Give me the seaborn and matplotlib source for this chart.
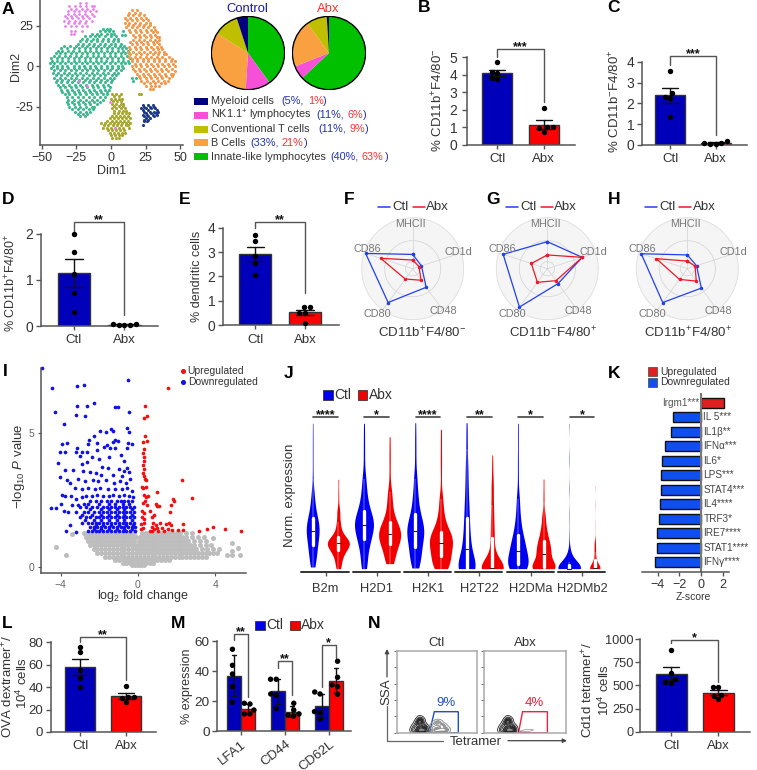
"""Multi-panel figure: t-SNE, pies, bars, radars, volcano, violins, z-scores, flow gates."""
import numpy as np
import pandas as pd
import matplotlib
matplotlib.use("Agg")
import matplotlib.pyplot as plt
from matplotlib.patches import Rectangle, Circle, Polygon
import seaborn as sns

W, H = 757, 770
BLUE, RED = "#0000BB", "#FF0000"
INK = "#333333"
CTL_LINE, ABX_LINE = "#2040F0", "#F01828"

# panel A: t-SNE clusters, rows of (Dim2, [Dim1 ...])
green_rows = [
    (23, [-6, -3, -1]), (20, [-14, -10, -7, -3, 0, 2]),
    (17, [-21, -17, -13, -10, -6, -2, 2, 5]),
    (14, [-24, -20, -16, -12, -8, -4, 0, 3, 7]),
    (11, [-36, -32, -27, -23, -19, -15, -11, -7, -3, 1, 5, 8, 11]),
    (8, [-40, -37, -33, -29, -25, -21, -17, -13, -9, -5, -1, 3, 7, 10, 13]),
    (5, [-43, -39, -35, -31, -27, -23, -19, -15, -11, -7, -3, 1, 5, 9, 14]),
    (2, [-44, -41, -37, -33, -29, -25, -21, -17, -13, -9, -5, -1, 3, 7, 10, 13]),
    (-1, [-43, -39, -35, -31, -27, -23, -19, -15, -11, -7, -3, 1, 5, 9]),
    (-4, [-42, -38, -34, -30, -26, -22, -18, -14, -10, -6, -2, 2, 5]),
    (-7, [-41, -37, -33, -29, -25, -21, -17, -13, -9, -5, -1, 2]),
    (-10, [-40, -36, -32, -28, -24, -20, -16, -12, -8, -4, 0]),
    (-13, [-37, -33, -29, -25, -21, -17, -13, -9, -5, -1]),
    (-16, [-35, -31, -27, -23, -19, -15, -11, -7, -3]),
    (-19, [-32, -28, -24, -20, -16, -12, -8, -4]),
    (-22, [-32, -28, -24, -20, -16, -12, -8]),
    (-25, [-30, -26, -22, -18, -14, -12]), (-28, [-26, -22, -18, -15]),
    (-31, [-22, -19]), (19, [8, 10]), (22, [9]), (-7, [15, 18]), (-9, [16]),
    (21.7, [-8, -4.5, -1.5, 1.5]), (18.4, [-18.5, -15, -11.5, -8.3, -4, 0, 3.5]),
    (15.6, [-22.5, -18, -14.3, -10, -6.4, -2.2, 1.7, 5.3]),
    (12.6, [-34, -29.5, -25.5, -21, -17.5, -13, -9.4, -5, -1.2, 3, 6.6, 9.5]),
    (9.5, [-38.5, -35, -31, -27.3, -23, -19, -15.4, -11, -7.2, -3, 1, 5.2, 9, 12]),
    (6.6, [-41, -37.2, -33, -29.4, -25, -21.3, -17, -13.2, -9, -5.3, -1, 3, 7.3, 11.5]),
    (3.4, [-42.5, -39, -35.3, -31, -27, -23.4, -19, -15.2, -11, -7, -3.3, 1, 5, 8.8, 12]),
    (0.4, [-42, -39, -35, -31.4, -27, -23, -19.3, -15, -11.2, -7, -3, 0.8, 5, 8]),
    (-2.6, [-41, -37, -33, -28.8, -25, -21, -17.2, -13, -9, -4.8, -1, 3.4, 7]),
    (-5.4, [-40, -36, -32, -28, -24.3, -20, -16, -12.2, -8, -4, 0.4, 3.5]),
    (-8.6, [-39, -35, -31, -27, -23, -19, -15, -11, -7, -3, 1]),
    (-11.4, [-38, -34.5, -30, -26.2, -22, -18, -14, -10.3, -6, -2]),
    (-14.6, [-36, -32, -28, -24, -20.4, -16, -12, -8, -4, -1.5]),
    (-17.4, [-33.5, -30, -26, -22, -18, -14, -10, -6, -3]),
    (-20.6, [-31, -26.5, -22, -18, -14, -10, -6]),
    (-23.4, [-31, -27, -23, -19, -15, -10]), (-26.6, [-28, -24, -20, -16, -13]),
    (-29.5, [-24, -20.5, -17]),
]
orange_rows = [
    (33, [13, 17, 21]), (30, [10, 14, 18, 22, 25]), (27, [10, 13, 17, 21, 25, 28]),
    (24, [11, 15, 19, 23, 27, 31]), (21, [14, 18, 22, 26, 30, 33]),
    (18, [17, 21, 25, 29, 33, 35]), (15, [14, 18, 22, 26, 30, 33]),
    (12, [13, 17, 21, 25, 29, 33, 36]), (9, [12, 16, 20, 24, 28, 32, 35, 38]),
    (6, [13, 17, 21, 25, 29, 33, 37, 42]), (3, [15, 19, 23, 27, 31, 35, 39, 43, 46]),
    (0, [15, 18, 22, 26, 30, 34, 38, 42, 46]), (-3, [17, 21, 25, 29, 33, 37, 41, 46]),
    (-6, [20, 24, 28, 32, 36, 40, 44]), (-9, [22, 26, 30, 34, 38, 41]),
    (-12, [25, 29, 32, 35]), (-14, [28, 30]),
    (34.5, [15, 19]), (31.5, [12, 16, 20, 23.5]), (28.5, [11.5, 15, 19, 23, 26.5]),
    (25.5, [12, 16, 20, 24, 28.5]), (22.5, [13, 17, 21, 25, 29, 32]), (19.5, [16, 20, 24, 28, 32]),
    (16.5, [16, 20, 24, 28, 32, 35]), (13.5, [15, 19, 23, 27, 31, 35]),
    (10.5, [14, 18, 22, 26, 30, 34, 37]), (7.5, [14, 18, 22, 26, 30, 34, 38, 40]),
    (4.5, [15, 19, 23, 27, 31, 35, 39, 44]), (1.5, [17, 21, 25, 29, 33, 37, 41, 45]),
    (-1.5, [16, 20, 24, 28, 32, 36, 40, 44]), (-4.5, [19, 23, 27, 31, 35, 39, 43, 45]),
    (-7.5, [21, 25, 29, 33, 37, 42]), (-10.5, [24, 28, 32, 36, 39]),
]
olive_rows = [
    (-17, [1, 4, 7]), (-20, [0, 3, 6, 8]), (-23, [1, 4, 7, 9]), (-26, [1, 4, 7, 10]),
    (-29, [2, 5, 8, 11, 13]), (-32, [-1, 2, 5, 8, 11, 14]), (-35, [-7, -4, -1, 2, 5, 8, 11, 14]),
    (-38, [-6, -3, 0, 3, 6, 9, 13]), (-41, [-1, 2, 5, 8, 10]), (-44, [1, 4, 6]), (-17, [20, 22]),
    (-33.5, [-3, 0.5, 3.5, 6.5, 9.5, 12.5]), (-36.5, [-5, -2, 1.5, 4.5, 7.5, 10.5, 12.5]),
    (-30.5, [1, 3.5, 6.5, 9.5, 12]), (-27.5, [2.5, 5.5, 8.5, 11]), (-39.5, [-2, 0.5, 3.5, 6.5, 9.5]),
    (-42.5, [0, 3, 6, 8]), (-24.5, [2.5, 5.5, 8.5]), (-21.5, [1.5, 4.5, 7.5]), (-18.5, [2.5, 5.5]),
]
navy_rows = [
    (-24, [23, 27, 30]), (-26, [22, 25, 29, 32]), (-28, [24, 28, 31, 34]),
    (-30, [23, 26, 30, 33]), (-32, [25, 28]), (-34, [24, 26]), (-36, [23]),
    (-25, [24, 28.5, 31]), (-27, [23, 27, 33]), (-29, [25, 29, 32.5]), (-31, [24, 27, 31]), (-33, [26.5, 24]),
]
pink_rows = [
    (39, [-22, -18]), (37, [-30, -26, -22, -18, -14, -12]),
    (34, [-31, -27, -23, -19, -15, -11]), (31, [-33, -29, -25, -21, -17, -12]),
    (28, [-34, -30, -26, -22, -18, -14]), (25, [-33, -29, -25, -21, -17]),
    (22, [-29, -26, -21]), (20, [-29, -27]), (-12, [-17]), (-9, [-23]), (-38, [3]), (-22, [-1]),
    (35.5, [-29, -25, -21, -17, -13]), (32.5, [-31, -27, -23, -19, -14]),
    (29.5, [-32, -28, -24, -20, -16]), (26.5, [-31, -27, -23, -19]),
]

# panel A: pies and legend
pie_labels = ["Innate-like lymphocytes", "NK1.1$^{+}$ lymphocytes", "B Cells", "Conventional T cells", "Myeloid cells"]
pie_colors = ["#00C000", "#F64FD8", "#F9A040", "#BFBF00", "#00007F"]
control_pct = [40, 11, 33, 11, 5]
abx_pct = [63, 6, 21, 9, 1]

# bar panels, dots per mouse
b_ctl, b_abx = [4.73, 4.18, 4.12, 3.8, 3.75], [2.13, 1.0, 1.0, 0.95, 0.76]
c_ctl, c_abx = [3.55, 2.48, 2.29, 2.24, 1.34], [0.05, 0.18, 0.11, 0.11, 0.05]
d_ctl, d_abx = [2.0, 1.61, 1.13, 0.71, 0.31], [0.02, 0.05, 0.03, 0.04, 0.02]
e_ctl, e_abx = [3.7, 3.44, 2.84, 2.54, 2.06], [0.74, 0.74, 0.52, 0.52, 0.11]
l_ctl, l_abx = [76, 71, 55, 48, 40], [40.9, 31.4, 27, 31.4, 30]
n_ctl, n_abx = [883, 628, 570, 525, 532], [486, 486, 400, 390, 350]

# panel M
m_genes = ["LFA1", "CD44", "CD62L"]
m_ctl = [[54.7, 44, 38.2, 29.8, 19.3], [34.7, 34.7, 24.9, 24, 15.1], [26.2, 24.9, 13.1, 12.4, 8.2]]
m_abx = [[18.7, 18.2, 14.2, 11.6, 11.6], [18.7, 14.2, 11.6, 10.7, 10.2], [46.7, 36, 30.9, 29.8, 24.7]]

# radar panels
radar_axes = ["MHCII", "CD1d", "CD48", "CD80", "CD86"]
radar_angles = [90, 18, 306, 234, 162]
f_ctl, f_abx = [0.28, 0.18, 0.45, 0.82, 0.97], [0.17, 0.13, 0.28, 0.25, 0.66]
g_ctl, g_abx = [0.53, 0.72, 0.36, 0.93, 0.91], [0.27, 0.72, 0.29, 0.33, 0.33]
h_ctl, h_abx = [0.27, 0.19, 0.47, 0.82, 0.95], [0.15, 0.16, 0.30, 0.26, 0.64]

# panel I: volcano
blue_points = [
    (-4.96, 7.46), (-4.44, 6.71), (-3.14, 6.76), (-2.8, 6.81), (-0.5, 6.98), (-2.26, 6.15), (-3.18, 6.01),
    (-2.66, 6.01), (-1.21, 5.98), (-1.02, 5.98), (-4.28, 5.79), (-3.23, 5.69), (-2.76, 5.63), (-0.45, 5.81),
    (-3.83, 5.35), (-1.95, 5.1), (-1.66, 5.04), (-1.4, 5.16), (-1.31, 5.09), (-0.55, 5.21), (-0.45, 5.06),
    (-2.26, 4.9), (-2.54, 4.75), (-2.6, 4.59), (-2.1, 4.65), (-1.62, 4.56), (-1.17, 4.75), (-1.28, 4.66),
    (-1.02, 4.71), (-0.5, 4.63), (-0.33, 4.59), (-3.96, 4.59), (-3.66, 4.65), (-4.04, 4.31), (-3.78, 4.31),
    (-3.14, 4.44), (-3.21, 4.31), (-2.9, 4.31), (-2.63, 4.31), (-2.14, 4.38), (-1.76, 4.5), (-1.45, 4.46),
    (-1.19, 4.46), (-0.59, 4.44), (-4.13, 3.88), (-3.0, 4.13), (-2.66, 3.94), (-2.92, 3.84), (-3.39, 3.63),
    (-3.78, 3.63), (-4.04, 3.38), (-3.66, 3.25), (-3.52, 3.13), (-3.96, 2.69), (-3.78, 2.66), (-3.49, 2.66),
    (-4.0, 2.34), (-4.53, 2.19), (-4.27, 2.21), (-3.83, 2.09), (-3.61, 2.04), (-3.52, 1.56), (-3.73, 1.35),
    (-3.21, 1.31), (-2.4, 4.1), (-2.0, 4.05), (-1.5, 4.1), (-0.9, 4.2), (-0.7, 3.95), (-1.85, 3.75),
    (-1.55, 3.7), (-1.0, 3.65), (-0.75, 3.6), (-0.55, 3.7), (-0.45, 3.55), (-2.85, 3.6), (-2.5, 3.55),
    (-2.2, 3.5), (-1.9, 3.45), (-1.3, 3.45), (-0.85, 3.4), (-0.4, 3.3), (-3.1, 3.3), (-2.75, 3.2),
    (-2.35, 3.25), (-2.05, 3.2), (-1.65, 3.25), (-1.25, 3.15), (-0.95, 3.2), (-0.6, 3.15), (-3.25, 2.95),
    (-2.9, 2.9), (-2.6, 2.95), (-2.25, 2.9), (-1.95, 2.95), (-1.55, 2.9), (-1.2, 2.9), (-0.85, 2.9), (-0.55, 2.95),
    (-0.3, 2.85), (-3.2, 2.55), (-2.9, 2.6), (-2.7, 2.65), (-2.4, 2.65), (-2.1, 2.7), (-1.8, 2.65), (-1.5, 2.65),
    (-1.3, 2.7), (-1.0, 2.65), (-0.7, 2.7), (-0.45, 2.65), (-0.25, 2.6), (-3.4, 2.3), (-3.1, 2.3), (-2.8, 2.35),
]
blue_rows = [
    (2.45, [-2.5, -2.2, -1.9, -1.6, -1.4, -1.1, -0.9, -0.7, -0.5, -0.3]),
    (2.25, [-3.0, -2.7, -2.4, -2.1, -1.8, -1.6, -1.4, -1.2, -1.0, -0.8, -0.6, -0.4, -0.2]),
    (2.05, [-3.2, -2.8, -2.6, -2.3, -2.0, -1.8, -1.6, -1.4, -1.2, -1.0, -0.8, -0.6, -0.4, -0.2]),
    (1.85, [-3.0, -2.7, -2.5, -2.2, -2.0, -1.8, -1.6, -1.4, -1.2, -1.0, -0.8, -0.6, -0.4, -0.2]),
    (1.65, [-2.9, -2.6, -2.4, -2.2, -2.0, -1.8, -1.6, -1.4, -1.2, -1.0, -0.8, -0.6, -0.4, -0.2]),
    (1.5, [-2.5, -2.3, -2.1, -1.9, -1.7, -1.5, -1.3, -1.1, -0.9, -0.7, -0.5, -0.3, -0.17]),
    (1.35, [-2.6, -2.4, -2.2, -2.0, -1.8, -1.6, -1.4, -1.2, -1.0, -0.8, -0.6, -0.4, -0.17]),
    (1.42, [-2.3, -1.9, -1.5, -1.1, -0.7, -0.3]), (1.58, [-2.2, -1.8, -1.4, -1.0, -0.6, -0.25]),
    (1.76, [-2.75, -2.3, -1.9, -1.5, -1.1, -0.7, -0.3]), (1.95, [-2.9, -2.4, -1.9, -1.5, -1.1, -0.7, -0.3]),
    (2.15, [-2.5, -1.9, -1.5, -1.1, -0.7, -0.3]), (2.35, [-2.6, -2.0, -1.5, -1.2, -0.8, -0.45]),
]
red_points = [
    (1.57, 6.69), (0.35, 6.04), (0.45, 5.63), (0.31, 5.56), (0.35, 4.91), (0.45, 4.71), (0.28, 4.66),
    (0.3, 4.4), (0.28, 4.25), (0.32, 4.1), (0.3, 3.95), (0.27, 3.8), (0.3, 3.65), (0.25, 3.5), (0.3, 3.4),
    (0.35, 3.3), (0.4, 3.25), (0.2, 3.0), (0.28, 2.95), (0.4, 3.0), (0.3, 2.7), (0.4, 2.6), (0.5, 2.65),
    (0.25, 2.4), (0.35, 2.45), (0.45, 2.3), (0.2, 2.1), (0.32, 2.0), (0.2, 1.85), (0.32, 1.8), (0.18, 1.6),
    (0.3, 1.65), (0.15, 1.4), (0.25, 1.45), (2.26, 3.26), (2.82, 2.59), (0.97, 2.81), (1.83, 2.53), (1.87, 2.46),
    (1.69, 2.31), (0.97, 2.29), (1.1, 2.27), (0.92, 2.35), (0.62, 2.09), (1.66, 2.04), (0.85, 1.95), (0.7, 1.85),
    (2.35, 1.59), (3.9, 1.48), (3.59, 1.41), (4.52, 1.43), (5.34, 1.34), (3.16, 1.34), (2.35, 1.38), (2.06, 1.38),
    (1.78, 1.38), (0.6, 1.35), (0.7, 1.5), (0.8, 1.65), (0.85, 1.4), (0.95, 1.55), (1.05, 1.35), (1.15, 1.65),
    (1.25, 1.45), (1.35, 1.35), (1.45, 1.6), (1.55, 1.4), (1.6, 1.65), (1.7, 1.55), (0.75, 1.35), (1.0, 1.45),
]
grey_rows = [
    (1.25, [-2.8, -2.6, -2.4, -2.2, -2.0, -1.8, -1.6, -1.4, -1.2, -1.0, -0.8, -0.6, -0.4, -0.2, 0.2, 0.4, 0.6, 0.8, 1.0, 1.2, 1.4, 1.6, 1.8, 2.0, 2.2, 2.5, 2.8]),
    (1.1, [-2.7, -2.5, -2.3, -2.1, -1.9, -1.7, -1.5, -1.3, -1.1, -0.9, -0.7, -0.5, -0.3, -0.1, 0.1, 0.3, 0.5, 0.7, 0.9, 1.1, 1.3, 1.5, 1.7, 1.9, 2.1, 2.3, 2.5, 2.8, 3.1, 3.4]),
    (0.95, [-2.6, -2.4, -2.2, -2.0, -1.8, -1.6, -1.4, -1.2, -1.0, -0.8, -0.6, -0.4, -0.2, 0.05, 0.2, 0.4, 0.6, 0.8, 1.0, 1.2, 1.4, 1.6, 1.8, 2.0, 2.2, 2.4, 2.6, 2.9, 3.2, 3.5]),
    (0.8, [-2.5, -2.3, -2.1, -1.9, -1.7, -1.5, -1.3, -1.1, -0.9, -0.7, -0.5, -0.3, -0.15, 0.0, 0.15, 0.3, 0.5, 0.7, 0.9, 1.1, 1.3, 1.5, 1.7, 1.9, 2.1, 2.3, 2.5, 2.7, 2.9, 3.2, 3.5, 3.8]),
    (0.65, [-2.3, -2.1, -1.9, -1.7, -1.5, -1.3, -1.1, -0.9, -0.7, -0.5, -0.3, -0.1, 0.05, 0.2, 0.4, 0.6, 0.8, 1.0, 1.2, 1.4, 1.6, 1.8, 2.0, 2.2, 2.4, 2.6, 2.8, 3.0, 3.3, 3.6, 3.9, 4.2]),
    (0.5, [-2.1, -1.9, -1.7, -1.5, -1.3, -1.1, -0.9, -0.7, -0.5, -0.3, -0.1, 0.1, 0.3, 0.5, 0.7, 0.9, 1.1, 1.3, 1.5, 1.7, 1.9, 2.1, 2.3, 2.5, 2.7, 2.9, 3.1, 3.3, 3.5, 3.7, 3.9, 4.1]),
    (0.38, [-1.7, -1.5, -1.3, -1.1, -0.9, -0.7, -0.5, -0.3, -0.1, 0.1, 0.3, 0.5, 0.7, 0.9, 1.1, 1.3, 1.5, 1.7, 1.9, 2.1, 2.3, 2.5, 2.7, 2.9, 3.1, 3.3, 3.5]),
    (0.26, [-1.2, -1.0, -0.8, -0.6, -0.4, -0.2, 0.0, 0.2, 0.4, 0.6, 0.8, 1.0, 1.2, 1.4, 1.6]),
    (0.15, [-0.8, -0.6, -0.4, -0.2, 0.0, 0.2, 0.4, 0.6, 0.8]),
    (0.05, [-0.3, -0.15, 0.0, 0.15, 0.3]),
    (0.71, [5.2]), (0.9, [4.85]), (1.06, [3.9]), (0.59, [4.89]), (0.44, [4.6, 4.85, 5.28, -3.75]),
    (0.74, [-4.25]), (1.22, [-3.44]),
]

# panel J: violins, quantile points of the body plus the thin upper tail
j_genes = ["B2m", "H2D1", "H2K1", "H2T22", "H2DMa", "H2DMb2"]
j_ctl_body = [
    [0.05, 0.2, 0.35, 0.5, 0.6, 0.71, 0.8, 0.9, 1.0, 1.08, 1.13, 1.2, 1.28, 1.35, 1.43, 1.51, 1.65, 1.8, 2.0, 2.3],
    [0.0, 0.2, 0.45, 0.65, 0.8, 0.88, 1.0, 1.1, 1.2, 1.28, 1.32, 1.38, 1.45, 1.55, 1.65, 1.74, 1.9, 2.1, 2.35, 2.7],
    [0.02, 0.15, 0.3, 0.45, 0.55, 0.66, 0.8, 0.9, 1.0, 1.08, 1.13, 1.2, 1.3, 1.4, 1.5, 1.63, 1.8, 2.05, 2.3, 2.7],
    [0.0, 0.0, 0.0, 0.0, 0.0, 0.02, 0.05, 0.1, 0.2, 0.35, 0.6, 0.7, 0.85, 1.05, 1.3, 1.51, 1.8, 2.1, 2.5, 3.0],
    [0.0, 0.0, 0.02, 0.05, 0.1, 0.13, 0.2, 0.3, 0.38, 0.45, 0.53, 0.6, 0.7, 0.8, 0.9, 1.0, 1.2, 1.4, 1.7, 2.1],
    [0.0, 0.0, 0.0, 0.0, 0.0, 0.0, 0.0, 0.0, 0.0, 0.0, 0.0, 0.0, 0.02, 0.03, 0.05, 0.1, 0.15, 0.2, 0.35, 0.5],
]
j_ctl_tail = [
    [2.7, 3.1, 3.5, 3.9, 4.36], [3.1, 3.4, 3.7, 4.0, 4.36], [3.1, 3.4, 3.7, 4.0, 4.38], [3.3, 3.6, 3.9, 4.15, 4.38],
    [2.6, 3.0, 3.4, 3.9, 4.36], [1.0, 1.6, 2.4, 3.3, 4.36],
]
j_abx_body = [
    [0.0, 0.15, 0.3, 0.4, 0.49, 0.55, 0.6, 0.65, 0.7, 0.73, 0.76, 0.78, 0.82, 0.86, 0.9, 0.95, 1.05, 1.2, 1.4, 1.7],
    [0.15, 0.25, 0.4, 0.55, 0.65, 0.73, 0.8, 0.88, 0.95, 1.0, 1.05, 1.1, 1.18, 1.25, 1.33, 1.41, 1.55, 1.75, 2.0, 2.3],
    [0.0, 0.03, 0.1, 0.2, 0.3, 0.39, 0.48, 0.57, 0.65, 0.72, 0.78, 0.85, 0.92, 0.98, 1.05, 1.11, 1.25, 1.45, 1.7, 2.1],
    [0.0, 0.0, 0.0, 0.0, 0.0, 0.0, 0.0, 0.0, 0.0, 0.02, 0.03, 0.08, 0.2, 0.4, 0.65, 0.91, 1.2, 1.5, 1.9, 2.4],
    [0.0, 0.0, 0.0, 0.0, 0.02, 0.05, 0.1, 0.18, 0.26, 0.35, 0.43, 0.5, 0.58, 0.66, 0.75, 0.83, 0.95, 1.1, 1.3, 1.6],
    [0.0, 0.0, 0.0, 0.0, 0.0, 0.0, 0.0, 0.0, 0.0, 0.0, 0.03, 0.05, 0.08, 0.12, 0.18, 0.25, 0.35, 0.5, 0.65, 0.8],
]
j_abx_tail = [
    [2.0, 2.3, 2.68], [2.66, 3.0, 3.3, 3.6, 3.96], [2.7, 3.1, 3.4, 3.8, 4.18], [2.7, 2.9, 3.15, 3.41],
    [2.0, 2.3, 2.69], [1.3, 1.9, 2.49],
]
j_ctl_width = [0.25, 0.37, 0.33, 0.33, 0.40, 0.44]
j_abx_width = [0.43, 0.43, 0.45, 0.43, 0.45, 0.20]
j_stars = ["****", "*", "****", "**", "*", "*"]

# panel K
k_labels = ["Irgm1***", "IL 5***", "IL1β**", "IFNα***", "IL6*", "LPS***", "STAT4***", "IL4****", "TRF3*", "IRE7****", "STAT1****", "IFNγ****"]
k_zscore = [2.1, -2.57, -2.8, -3.38, -3.6, -3.72, -3.72, -3.78, -3.88, -4.12, -4.12, -4.31]

# panel N: flow events for the contour blobs
flow_main_x = [20, 22, 24, 25, 26, 27, 28, 29, 29, 30, 30, 31, 32, 33, 34, 35, 37, 38]
flow_main_y = [3, 7, 1, 11, 5, 14, 2, 8, 17, 1, 12, 5, 15, 3, 9, 2, 6, 2]
flow_side_x = [43, 45, 47, 49, 50, 52, 53, 55, 56, 58, 60, 62]
flow_side_y = [2, 7, 1, 11, 4, 13, 2, 9, 4, 8, 2, 4]
flow_abx_x = [48, 51, 53, 56]
flow_abx_y = [2, 3, 2, 3]

sns.set_theme(style="ticks")
plt.rcParams["font.family"] = ["Liberation Sans", "DejaVu Sans"]
plt.rcParams.update({
    "mathtext.fontset": "custom", "mathtext.rm": "Liberation Sans",
    "mathtext.it": "Liberation Sans:italic", "mathtext.bf": "Liberation Sans:bold",
    "mathtext.default": "regular", "axes.edgecolor": "#555555", "axes.linewidth": 1.1,
    "xtick.color": "#555555", "ytick.color": "#555555",
    "xtick.labelcolor": INK, "ytick.labelcolor": INK,
})

fig = plt.figure(figsize=(W / 100, H / 100), dpi=100)


def add_px(left, top, right, bottom, **kw):
    return fig.add_axes([left / W, 1 - bottom / H, (right - left) / W, (bottom - top) / H], **kw)


# overlay in image pixels for labels and small furniture
ov = add_px(0, 0, W, H, zorder=20)
ov.set_xlim(0, W)
ov.set_ylim(H, 0)
ov.axis("off")


def txt(x, y, s, size=9.5, color=INK, ha="left", va="center", **kw):
    ov.text(x, y, s, fontsize=size, color=color, ha=ha, va=va, **kw)


def expand(rows):
    xs, ys = [], []
    for y, row in rows:
        xs += row
        ys += [y] * len(row)
    return xs, ys


def star_text(ax, x, y, stars):
    ax.annotate(stars, (x, y), xytext=(0, -1.0), textcoords="offset points", ha="center", va="baseline",
                fontsize=9, fontweight="bold", color="#111111", annotation_clip=False)


def bracket(ax, x0, x1, y_left, y_top, y_right, stars, color="#555555"):
    ax.plot([x0, x0, x1, x1], [y_left, y_top, y_top, y_right], color=color, lw=1, clip_on=False)
    star_text(ax, (x0 + x1) / 2, y_top, stars)


def style_bar_axes(ax, ticks, size=10, pad=1.7):
    sns.despine(ax=ax)
    ax.set_xlabel("")
    ax.set_ylabel("")
    ax.set_yticks(ticks)
    ax.tick_params(axis="y", labelsize=size, length=3.6, width=1, pad=pad)
    ax.tick_params(axis="x", labelsize=9.5, length=3, width=1, pad=3)
    for coll in ax.collections:
        coll.set_clip_on(False)


def bar_panel(px, c0, c1, bar_w, ctl, abx, ymax, ticks, br, stars, size=10, pad=1.7):
    left, top, right, bottom = px
    ax = add_px(left, top, right, bottom)
    frame = pd.DataFrame({"group": ["Ctl"] * len(ctl) + ["Abx"] * len(abx), "value": ctl + abx})
    spacing = c1 - c0
    sns.barplot(data=frame, x="group", y="value", hue="group", palette=[BLUE, RED], order=["Ctl", "Abx"],
                width=bar_w / spacing, errorbar="se", capsize=0.35, saturation=1,
                err_kws={"color": "#111111", "linewidth": 1}, edgecolor="#333333", linewidth=1, legend=False, ax=ax)
    sns.swarmplot(data=frame, x="group", y="value", order=["Ctl", "Abx"], color="black", size=3.9, ax=ax, warn_thresh=1)
    ax.set_xlim((left - c0) / spacing, (right - c0) / spacing)
    ax.set_ylim(0, ymax)
    style_bar_axes(ax, ticks, size, pad)
    bracket(ax, 0, 1, br[0], br[1], br[2], stars)
    return ax


# A: t-SNE
ax = add_px(40.3, 0, 183, 145.3)
clusters = [(green_rows, "#3DBB8F", 5), (orange_rows, "#F4994A", 5), (olive_rows, "#A8A82A", 5),
            (navy_rows, "#1F3A8A", 5), (pink_rows, "#E87FEA", 4)]
for rows, colour, dot in clusters:
    xs, ys = expand(rows)
    sns.scatterplot(x=xs, y=ys, color=colour, s=dot, linewidth=0, ax=ax)
ax.set_xlim(-51, 52)
ax.set_ylim(-48.8, 40.9)
ax.set_xticks([-50, -25, 0, 25, 50], ["−50", "−25", "0", "25", "50"])
ax.set_yticks([-25, 0, 25], ["-25", "0", "25"])
ax.tick_params(labelsize=9, length=3, width=1, pad=2)
sns.despine(ax=ax)
txt(111.7, 171.5, "Dim1", 9, ha="center")
txt(15.7, 66, "Dim2", 9, ha="center", rotation=90)

# A: pies
for cx, pct, title, colour in [(248, control_pct, "Control", "#1A1AB0"), (329, abx_pct, "Abx", "#FF3030")]:
    ax = add_px(cx - 37, 53 - 37, cx + 37, 53 + 37)
    ax.pie(pct, colors=pie_colors, startangle=90, counterclock=False, radius=1,
           wedgeprops={"linewidth": 0})
    ax.add_patch(Circle((0, 0), 1, fill=False, ec="black", lw=1))
    ax.set_xlim(-1.01, 1.01)
    ax.set_ylim(-1.01, 1.01)
    txt(cx - 1, 9, title, 9.4, colour, ha="center")

legend_rows = [
    (101, 4, 281, 307.7, 322.5), (115, 1, 316.7, 347, 363), (129, 3, 318, 349, 365),
    (142.7, 2, 250, 281.7, 304), (156.7, 0, 330, 361.7, 385),
]
for y, idx, x_a, x_b, x_c in legend_rows:
    ov.add_patch(Rectangle((193.7, y - 3.5), 14, 7, fc=pie_colors[idx], ec="none"))
    txt(211, y, pie_labels[idx], 7.8)
    txt(x_a, y, f"({control_pct[idx]}%,", 7.8, "#2030B0")
    txt(x_b, y, f"{abx_pct[idx]}%", 7.8, "#FF3030")
    txt(x_c, y, ")", 7.8, "#2030B0")

# B-E
bar_panel((466.7, 57.3, 575, 145), 497.3, 543.7, 30.3, b_ctl, b_abx, 5, [0, 1, 2, 3, 4, 5], (5.04, 5.49, 2.47), "***", pad=3)
txt(438, 100, "% CD11b$^{+}$F4/80$^{-}$", 9.5, ha="center", rotation=90)
bar_panel((641.7, 61.7, 746.7, 145), 670.3, 715.7, 30.3, c_ctl, c_abx, 4, [0, 1, 2, 3, 4], (3.84, 4.29, 0.5), "***")
txt(615, 101, "% CD11b$^{-}$F4/80$^{+}$", 9.5, ha="center", rotation=90)
bar_panel((40.7, 233.7, 158.3, 326), 74, 124.3, 32.7, d_ctl, d_abx, 2, [0, 1, 2], (2.04, 2.25, 0.24), "**")
txt(10.7, 283, "% CD11b$^{+}$F4/80$^{+}$", 9, ha="center", rotation=90)
bar_panel((222.7, 227.7, 338.7, 325.3), 255.3, 305, 32.3, e_ctl, e_abx, 4, [0, 1, 2, 3, 4], (4.0, 4.25, 1.34), "**")
txt(196.7, 276, "% dendritic cells", 9, ha="center", rotation=90)

# F-H: radars
radar_sets = [(412.7, f_ctl, f_abx, "CD11b$^{+}$F4/80$^{-}$", 422, 377.7, 392, 412.7, 426),
              (547.3, g_ctl, g_abx, "CD11b$^{-}$F4/80$^{+}$", 553, 506, 520.7, 540.7, 554),
              (687.3, h_ctl, h_abx, "CD11b$^{+}$F4/80$^{+}$", 688, 645, 659, 679.3, 692.7)]
label_offsets = [(-2, -45), (45.7, -17), (30.7, 42.7), (-35, 45.7), (-45.3, -19.7)]
theta = np.deg2rad(radar_angles + radar_angles[:1])
for cx, ctl, abx, title, title_x, l0, t0, l1, t1 in radar_sets:
    cy = 268.7
    ax = add_px(cx - 51, cy - 51, cx + 51, cy + 51, projection="polar")
    ax.set_facecolor("#F5F5F5")
    ax.plot(theta, ctl + ctl[:1], color=CTL_LINE, lw=0.9, marker="o", ms=1.5)
    ax.plot(theta, abx + abx[:1], color=ABX_LINE, lw=0.9, marker="o", ms=1.5)
    ax.set_xlim(0, 2 * np.pi)
    ax.set_ylim(0, 1)
    ax.set_yticks([0.14, 0.55], [])
    ax.set_xticks(np.deg2rad(radar_angles), [])
    ax.grid(color="#D2D2D2", lw=0.5)
    ax.tick_params(length=0)
    ax.spines["polar"].set_color("#DDDDDD")
    ax.spines["polar"].set_linewidth(0.6)
    for name, (dx, dy) in zip(radar_axes, label_offsets):
        txt(cx + dx, cy + dy, name, 7.8, "#777777", ha="center")
    txt(title_x, 333, title, 9.5, ha="center")
    ov.plot([l0, l0 + 12], [207, 207], color=CTL_LINE, lw=1.1)
    ov.plot([l1, l1 + 12], [207, 207], color=ABX_LINE, lw=1.1)
    txt(t0, 207, "Ctl", 9.5)
    txt(t1, 207, "Abx", 9.5)

# I: volcano
ax = add_px(40.7, 367.7, 245.7, 573.3)
gx, gy = expand(grey_rows)
sns.scatterplot(x=gx, y=gy, color="#BDBDBD", s=13, linewidth=0, ax=ax)
bx, by = expand(blue_rows)
bx += [p[0] for p in blue_points]
by += [p[1] for p in blue_points]
sns.scatterplot(x=bx, y=by, color="#1010EE", s=7, linewidth=0, ax=ax)
sns.scatterplot(x=[p[0] for p in red_points], y=[p[1] for p in red_points], color="#F01010", s=7, linewidth=0, ax=ax)
ax.set_xlim(-5.04, 5.58)
ax.set_ylim(-0.25, 7.46)
ax.set_xticks([-4, 0, 4], ["−4", "0", "4"])
ax.set_yticks([0, 5])
ax.tick_params(labelsize=7.5, length=2.5, width=0.8, pad=2, labelcolor="#666666")
sns.despine(ax=ax)
for coll in ax.collections:
    coll.set_clip_on(False)
ov.plot([182.7], [371], "o", color="#F01010", ms=2.6)
ov.plot([182.7], [381.7], "o", color="#1010EE", ms=2.6)
txt(187.7, 371, "Upregulated", 7.5)
txt(187.7, 381.7, "Downregulated", 7.5)
txt(19.3, 466.7, "−log$_{10}$ $\\mathit{P}$ value", 9.5, ha="center", rotation=90)
txt(143, 595.5, "log$_{2}$ fold change", 9, ha="center")

# J: violins
ax = add_px(297, 405, 610, 572.3)
for i, gene in enumerate(j_genes):
    pairs = [(j_ctl_body[i], j_ctl_tail[i], j_ctl_width[i], "#0000F0", -0.25),
             (j_abx_body[i], j_abx_tail[i], j_abx_width[i], "#F00000", 0.25)]
    for body, tail, width, colour, offset in pairs:
        vals = body * 4 + tail
        sns.violinplot(x=[i + offset] * len(vals), y=vals, native_scale=True, orient="x", width=width, color=colour,
                       linewidth=0, cut=0, bw_method=0.3, density_norm="width", saturation=1, inner="box",
                       inner_kws={"box_width": 2.4, "whis_width": 0.3, "color": "white"}, ax=ax)
        ax.plot([i + offset - 0.035, i + offset + 0.035], [np.median(vals)] * 2, color="#222222", lw=0.8, zorder=10)
    ax.plot([i - 0.47, i + 0.45], [-0.11, -0.11], color="#333333", lw=1.4, clip_on=False)
    ax.plot([i - 0.24, i + 0.24], [4.56, 4.56], color="#444444", lw=1.2)
    star_text(ax, i, 4.56, j_stars[i])
ax.set_xlim((297 - 325.5) / 51.3, (610 - 325.5) / 51.3)
ax.set_ylim(-0.11, 4.91)
ax.set_xticks(range(len(j_genes)), j_genes)
ax.set_yticks([])
ax.tick_params(axis="x", labelsize=9.3, length=3, width=1, pad=5)
sns.despine(ax=ax, left=True, bottom=True)
txt(290, 495, "Norm. expression", 9.5, ha="center", rotation=90)
for x_p, x_t, label, colour in [(323.3, 334.7, "Ctl", "#0000F0"), (357.7, 368.7, "Abx", "#F00000")]:
    ov.add_patch(Rectangle((x_p, 390), 9.7, 9.7, fc=colour, ec="#222222", lw=0.5))
    txt(x_t, 395, label, 10)

# K: z-scores
ax = add_px(641.7, 393, 729.3, 572)
k_colors = ["#E02020"] + ["#0F4FF0"] * 11
sns.barplot(x=k_zscore, y=k_labels, hue=k_labels, palette=k_colors, orient="h", width=0.69, edgecolor="#111111",
            linewidth=1, saturation=1, legend=False, ax=ax)
ax.set_xlim(-5.5, 2.63)
ax.set_ylim(11.66, -0.69)
ax.axvline(0, color="#777777", lw=1.5)
for i, (label, z) in enumerate(zip(k_labels, k_zscore)):
    if z > 0:
        ax.text(-0.2, i, label, ha="right", va="center", fontsize=7.2, color="#555555")
    else:
        ax.text(0.22, i, label, ha="left", va="center", fontsize=7.2, color="#444444", clip_on=False)
ax.set_yticks([])
ax.set_ylabel("")
ax.set_xticks([-4, -2, 0, 2], ["−4", "−2", "0", "2"])
ax.tick_params(axis="x", labelsize=9, length=3, width=1, pad=2)
sns.despine(ax=ax, left=True)
txt(693, 596.7, "Z-score", 7.5, ha="center")
for y, label, colour in [(371.7, "Upregulated", "#E02020"), (382.3, "Downregulated", "#0F4FF0")]:
    ov.add_patch(Rectangle((648.3, y - 4.4), 8.7, 8.8, fc=colour, ec="#444444", lw=0.5))
    txt(660, y, label, 7.5)

# L
bar_panel((50.7, 642.3, 156, 732), 80.3, 126, 30.3, l_ctl, l_abx, 80, [0, 20, 40, 60, 80], (80, 85, 46), "**", size=9.5)
txt(8, 686.7, "OVA dextramer$^{+}$/", 9.5, ha="center", rotation=90)
txt(22.7, 683, "10$^{4}$ cells", 9.5, ha="center", rotation=90)

# M
ax = add_px(217, 641.3, 351.3, 731.3)
m_frame = pd.DataFrame({
    "gene": [g for g in m_genes for _ in range(10)],
    "group": (["Ctl"] * 5 + ["Abx"] * 5) * 3,
    "value": [v for c, a in zip(m_ctl, m_abx) for v in c + a],
})
sns.barplot(data=m_frame, x="gene", y="value", hue="group", palette=[BLUE, RED], hue_order=["Ctl", "Abx"], width=0.65, gap=0,
            errorbar="sd", capsize=0.2, saturation=1, err_kws={"color": "#111111", "linewidth": 1}, edgecolor="#333333", linewidth=1,
            legend=False, ax=ax)
sns.swarmplot(data=m_frame, x="gene", y="value", hue="group", hue_order=["Ctl", "Abx"], palette=["black", "black"],
              dodge=True, size=3.9, legend=False, ax=ax, warn_thresh=1)
ax.set_xlim((217 - 241.2) / 43.8, (351.3 - 241.2) / 43.8)
ax.set_ylim(0, 60)
style_bar_axes(ax, [0, 20, 40, 60], 9.7)
ax.set_xticks(range(3), ["", "", ""])
for label, x_end in zip(m_genes, [245, 289, 333]):
    txt(x_end, 743, label, 9.5, ha="right", rotation=38, rotation_mode="anchor")
bracket(ax, -0.16, 0.16, 60.9, 64.7, 23, "**")
bracket(ax, 0.84, 1.16, 42, 46.9, 24, "**")
bracket(ax, 1.84, 2.16, 29.8, 57.6, 48.7, "*")
txt(187.3, 686.7, "% expression", 9, ha="center", rotation=90)
for x_p, x_t, label, colour in [(255.3, 266.7, "Ctl", "#0000F0"), (290, 300.7, "Abx", "#F00000")]:
    ov.add_patch(Rectangle((x_p, 620.5), 9.7, 9.7, fc=colour, ec="#222222", lw=0.5))
    txt(x_t, 625.3, label, 10)

# N: flow plots
flow_boxes = [((396.7, 476.7), "Ctl", "#2050C0", "9%", [41, 47, 77, 77]),
              ((484.3, 565.7), "Abx", "#F02040", "4%", [42, 47, 77.5, 77.5])]
for (x0, x1), title, colour, pct, gate in flow_boxes:
    ax = add_px(x0, 650.7, x1, 732.7)
    sns.kdeplot(x=flow_main_x, y=flow_main_y, levels=9, color="#222222", linewidths=0.6, bw_adjust=0.8, ax=ax)
    sns.kdeplot(x=flow_main_x, y=flow_main_y, levels=[0.55, 1], fill=True, color="black", bw_adjust=0.8, ax=ax)
    if title == "Ctl":
        sns.kdeplot(x=flow_side_x, y=flow_side_y, levels=7, color="#888888", linewidths=0.6, bw_adjust=0.8, ax=ax)
    else:
        sns.kdeplot(x=flow_abx_x, y=flow_abx_y, levels=2, color="#777777", linewidths=0.4, bw_adjust=0.8, ax=ax)
    ax.add_patch(Polygon(list(zip(gate, [0, 25.6, 25.6, 0])), fill=False, ec=colour, lw=1))
    ax.set_xlim(0, 100)
    ax.set_ylim(0, 100)
    ax.set_xlabel("")
    ax.set_ylabel("")
    ax.set_xticks([])
    ax.set_yticks([0, 20, 40, 60, 80, 100], [])
    ax.tick_params(length=2, width=0.6)
    for spine in ax.spines.values():
        spine.set_color("#AAAAAA")
    txt((x0 + x1) / 2, 643.3, title, 9.5, ha="center")
    txt(x0 + 0.62 * (x1 - x0), 702.7, pct, 9.5, colour, ha="center")
ov.annotate("", xy=(387, 649), xytext=(387, 677), arrowprops={"arrowstyle": "-|>", "color": "#444444", "lw": 0.9, "shrinkA": 0, "shrinkB": 0, "mutation_scale": 6})
ov.plot([387, 387], [740.7, 706], color="#666666", lw=0.9)
ov.plot([387, 443], [740.7, 740.7], color="#666666", lw=0.9)
ov.annotate("", xy=(567, 740.7), xytext=(508, 740.7), arrowprops={"arrowstyle": "-|>", "color": "#444444", "lw": 0.9, "shrinkA": 0, "shrinkB": 0, "mutation_scale": 6})
txt(386.7, 691.7, "SSA", 9.5, ha="center", rotation=90)
txt(475.7, 742.3, "Tetramer", 9.5, ha="center")

bar_panel((640, 639, 750, 731.7), 671, 718.3, 31, n_ctl, n_abx, 1000, [0, 250, 500, 750, 1000], (957, 993, 532), "*", size=9.2, pad=0.8)
txt(588.3, 690, "Cd1d tetramer$^{+}$/", 9.5, ha="center", rotation=90)
txt(604, 690, "10$^{4}$ cells", 9.5, ha="center", rotation=90)

# panel letters
letters = {"A": (8, 9), "B": (424, 8), "C": (613, 8), "D": (8, 200), "E": (185, 200), "F": (349, 200),
           "G": (493, 200), "H": (614, 200), "I": (5, 372), "J": (289, 373), "K": (614, 373),
           "L": (7, 623), "M": (178, 623), "N": (374, 623)}
for letter, (x, y) in letters.items():
    txt(x, y, letter, 12.5, "black", ha="center", fontweight="bold")

fig.savefig("out.png", dpi=100)
